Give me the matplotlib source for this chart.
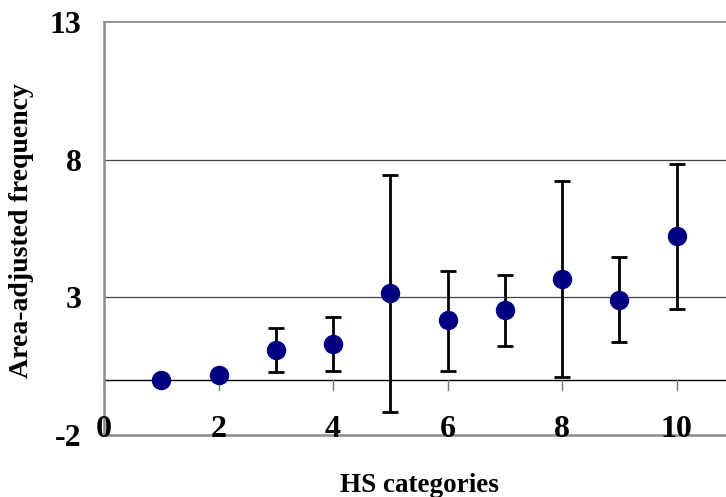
import numpy as np
import matplotlib
matplotlib.use("Agg")
import matplotlib.pyplot as plt

# Datos
categorias = [1, 2, 3, 4, 5, 6, 7, 8, 9, 10]
frecuencia = [0.0, 0.17, 1.09, 1.31, 3.15, 2.16, 2.53, 3.66, 2.91, 5.22]
err_sup = [0.0, 0.0, 1.90, 2.30, 7.43, 3.96, 3.81, 7.22, 4.47, 7.86]
err_inf = [0.0, 0.0, 0.30, 0.34, -1.15, 0.34, 1.25, 0.10, 1.36, 2.56]

xticks = [0, 2, 4, 6, 8, 10]
yticks = [-2, 3, 8, 13]

plt.rcParams['font.family'] = ['Liberation Serif', 'DejaVu Serif']
plt.rcParams['font.weight'] = 'bold'

fig = plt.figure(figsize=(7.26, 4.97), dpi=100)
ax = fig.add_axes([104 / 726, 1 - 435 / 497, 630 / 726, 413 / 497])

frec = np.array(frecuencia)
yerr = np.vstack([frec - np.array(err_inf), np.array(err_sup) - frec])
tiene_err = np.array(err_sup) != 0

# lineas de referencia
for y in [3, 8]:
    ax.axhline(y, color='#444444', lw=0.9, zorder=1)
ax.axhline(0, color='black', lw=1.0, zorder=1)
for x in xticks:
    ax.plot([x, x], [0, -0.37], color='#777777', lw=1.0, zorder=1, clip_on=False)

ax.errorbar(np.array(categorias)[tiene_err], frec[tiene_err], yerr=yerr[:, tiene_err],
            fmt='none', ecolor='black', elinewidth=2.0, capsize=5.5, capthick=2.0, zorder=2)
ax.plot(categorias, frecuencia, 'o', color='#000080', markersize=13, zorder=3)

ax.set_xlim(0, 11)
ax.set_ylim(-2, 13)

for s in ['left', 'bottom', 'top']:
    ax.spines[s].set_color('#8c8c8c')
    ax.spines[s].set_linewidth(1.8)
ax.spines['top'].set_linewidth(1.3)
ax.spines['right'].set_visible(False)

ax.set_xticks([])
ax.set_yticks(yticks)
ax.set_yticklabels([str(v) for v in yticks], fontsize=23, fontweight='bold')
ax.tick_params(axis='y', length=0, pad=16)

for x in xticks:
    ax.text(x, -2.06, str(x), ha='center', va='baseline', fontsize=23,
            fontweight='bold', clip_on=False)

fig.text(419 / 726, 1 - 485 / 497, 'HS categories', ha='center', va='center',
         fontsize=19.5, fontweight='bold')
fig.text(22 / 726, 1 - 231 / 497, 'Area-adjusted frequency', ha='center', va='center',
         rotation=90, fontsize=20, fontweight='bold')

plt.savefig('out.png', dpi=100)
